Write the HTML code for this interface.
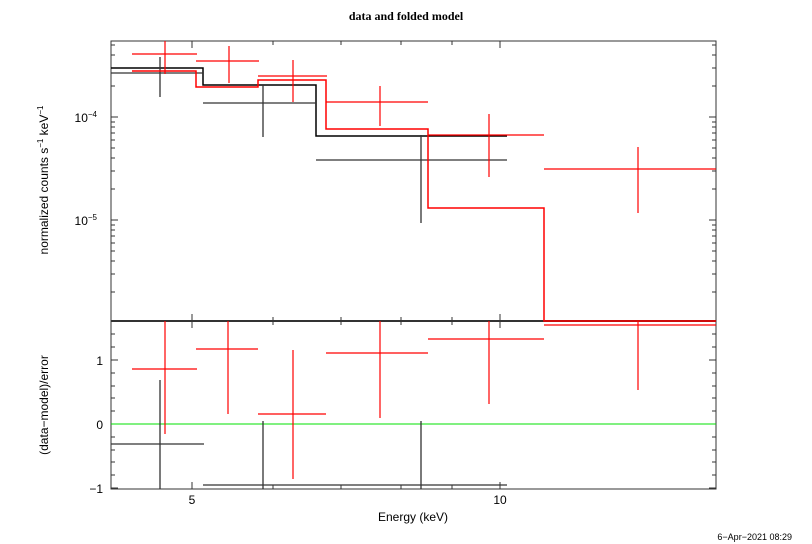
<!DOCTYPE html>
<html><head><meta charset="utf-8"><style>
html,body{margin:0;padding:0;background:#fff;width:812px;height:544px;overflow:hidden}
svg text{font-family:"Liberation Sans",sans-serif;fill:#000}
</style></head><body>
<svg width="812" height="544" viewBox="0 0 812 544" xmlns="http://www.w3.org/2000/svg">
<text x="406" y="20" text-anchor="middle" style="font-family:'Liberation Serif',serif;font-weight:bold;font-size:12px">data and folded model</text>
<g stroke="#333" stroke-width="1" fill="none">
<rect x="111" y="41" width="605" height="448"/>
<line x1="111" y1="321" x2="716" y2="321" stroke-width="2"/>
<!-- x ticks -->
<path d="M192 41v7M273 41v4M341 41v4M401 41v4M452 41v4M500 41v7
M192 321v-7M273 321v-4M341 321v-4M401 321v-4M452 321v-4M500 321v-7
M192 321v7M273 321v4M341 321v4M401 321v4M452 321v4M500 321v7
M192 489v-7M273 489v-4M341 489v-4M401 489v-4M452 489v-4M500 489v-7"/>
<!-- y log ticks left -->
<path d="M111 117h7M111 220h7M111 86h4M111 68h4M111 55h4M111 45h4
M111 189h4M111 171h4M111 158h4M111 148h4M111 140h4M111 133h4M111 127h4M111 122h4
M111 292h4M111 274h4M111 261h4M111 251h4M111 243h4M111 236h4M111 230h4M111 225h4"/>
<path d="M716 117h-7M716 220h-7M716 86h-4M716 68h-4M716 55h-4M716 45h-4
M716 189h-4M716 171h-4M716 158h-4M716 148h-4M716 140h-4M716 133h-4M716 127h-4M716 122h-4
M716 292h-4M716 274h-4M716 261h-4M716 251h-4M716 243h-4M716 236h-4M716 230h-4M716 225h-4"/>
<!-- lower y ticks -->
<path d="M111 360h7M111 424h7M111 488h7M111 334h4M111 347h4M111 373h4M111 386h4M111 398h4M111 411h4M111 437h4M111 450h4M111 462h4M111 475h4
M716 360h-7M716 424h-7M716 488h-7M716 334h-4M716 347h-4M716 373h-4M716 386h-4M716 398h-4M716 411h-4M716 437h-4M716 450h-4M716 462h-4M716 475h-4"/>
</g>
<text x="97" y="122" text-anchor="end" font-size="12">10<tspan font-size="8" dy="-5">−4</tspan></text>
<text x="97" y="225" text-anchor="end" font-size="12">10<tspan font-size="8" dy="-5">−5</tspan></text>
<text x="103" y="365" text-anchor="end" font-size="12">1</text>
<text x="103" y="429" text-anchor="end" font-size="12">0</text>
<text x="103" y="493" text-anchor="end" font-size="12">−1</text>
<text x="192" y="504" text-anchor="middle" font-size="12">5</text>
<text x="500" y="504" text-anchor="middle" font-size="12">10</text>
<text x="413" y="521" text-anchor="middle" font-size="12">Energy (keV)</text>
<text transform="translate(48,180) rotate(-90)" text-anchor="middle" font-size="12">normalized counts s<tspan font-size="8" dy="-5">−1</tspan><tspan dy="5"> keV</tspan><tspan font-size="8" dy="-5">−1</tspan></text>
<text transform="translate(48,405) rotate(-90)" text-anchor="middle" font-size="12">(data−model)/error</text>
<text x="792" y="540" text-anchor="end" font-size="9">6−Apr−2021 08:29</text>
<!-- green zero -->
<line x1="111" y1="424" x2="716" y2="424" stroke="#00e000" stroke-width="1"/>
<!-- black model -->
<path d="M111 68H203V85H316V136H507" stroke="#000" stroke-width="1.5" fill="none"/>
<!-- black data -->
<path d="M111 73H203M160 57V97M203 103H316M263 85V137M316 160H507M421 135V223" stroke="#333" stroke-width="1.3" fill="none"/>
<!-- red model -->
<path d="M132 71H196V87H258V80H326V129H428V208H544V321H716" stroke="#f00" stroke-width="1.5" fill="none"/>
<!-- red data -->
<path d="M132 54H197M165 41V74M196 61H259M229 46V83M258 76H327M293 60V102M326 102H428M380 86V126M428 135H544M489 114V177M544 169H716M638 147V213" stroke="#f00" stroke-width="1.2" fill="none"/>
<!-- residuals red -->
<path d="M132 369H197M165 321V434M196 349H258M228 321V414M258 414H326M293 350V479M326 353H428M380 321V418M428 339H544M489 321V404M544 325H716M638 321V390" stroke="#f00" stroke-width="1.2" fill="none"/>
<!-- residuals black -->
<path d="M111 444H204M160 380V489M203 485H316M263 421V489M316 485H507M421 421V489" stroke="#333" stroke-width="1.3" fill="none"/>
</svg>
</body></html>
